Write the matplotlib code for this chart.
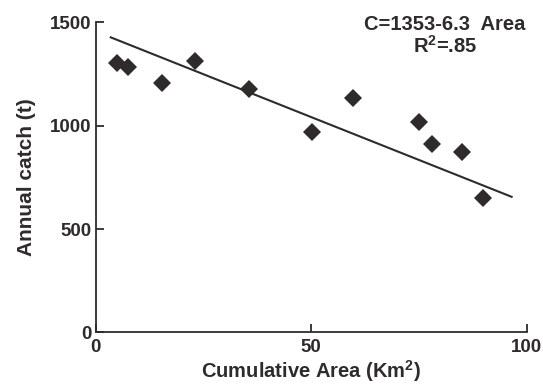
import matplotlib
matplotlib.use("Agg")
from matplotlib import pyplot as plt

# data
area = [4.9, 7.4, 15.4, 23.1, 35.6, 50.1, 59.8, 75.1, 78.1, 85.0, 89.8]
catch = [1302, 1285, 1205, 1313, 1177, 971, 1135, 1019, 910, 872, 648]

# regression line endpoints as drawn
fit_x = [3.5, 96.5]
fit_y = [1428, 656]

eq_text = "C=1353-6.3  Area"
r2_text = "R$^{\\mathbf{2}}$=.85"

ink = "#2f2b2b"
plt.rcParams['font.family'] = ['Liberation Sans', 'DejaVu Sans']
plt.rcParams['mathtext.fontset'] = 'custom'
plt.rcParams['mathtext.rm'] = 'Liberation Sans:bold'
plt.rcParams['mathtext.bf'] = 'Liberation Sans:bold'

fig = plt.figure(figsize=(5.43, 3.87), dpi=100)
ax = fig.add_axes([0.1762, 0.1413, 0.7938, 0.8006])

ax.plot(fit_x, fit_y, color=ink, lw=1.5)
ax.plot(area, catch, 'D', color=ink, markersize=9, markeredgewidth=0)

ax.set_xlim(0, 100)
ax.set_ylim(0, 1500)
ax.set_xticks([0, 50, 100])
ax.set_yticks([0, 500, 1000, 1500])
ax.tick_params(direction='in', length=6, width=1.3, color=ink,
               labelsize=13.5, labelcolor=ink)
ax.tick_params(axis='x', pad=5)
ax.tick_params(axis='y', pad=3)
for lab in ax.get_xticklabels() + ax.get_yticklabels():
    lab.set_fontweight('bold')

for side in ['top', 'right']:
    ax.spines[side].set_visible(False)
for side in ['left', 'bottom']:
    ax.spines[side].set_color(ink)
    ax.spines[side].set_linewidth(1.3)

ax.set_xlabel("Cumulative Area (Km$^{\\mathbf{2}}$)", fontsize=14.5,
              fontweight='bold', color=ink, labelpad=1)
ax.set_ylabel("Annual catch (t)", fontsize=15, fontweight='bold',
              color=ink, labelpad=10)

ax.text(0.81, 0.995, eq_text, transform=ax.transAxes, ha='center', va='center',
        fontsize=14.5, fontweight='bold', color=ink)
ax.text(0.81, 0.925, r2_text, transform=ax.transAxes, ha='center', va='center',
        fontsize=14.5, fontweight='bold', color=ink)

plt.savefig("out.png", dpi=100)
